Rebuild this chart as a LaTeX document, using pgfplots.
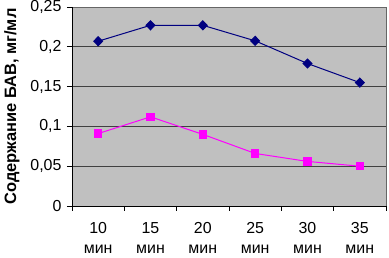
\documentclass[border=0pt]{standalone}
\usepackage{fontspec}
\setmainfont{Liberation Sans}
\usepackage{pgfplots}
\pgfplotsset{compat=1.18}
\definecolor{navyc}{HTML}{000080}
\definecolor{magc}{HTML}{FF00FF}
\definecolor{plotbg}{HTML}{C0C0C0}
\begin{document}
\begin{tikzpicture}
\begin{axis}[
  name=plot,
  at={(0,0)}, anchor=south west,
  scale only axis,
  width=314bp, height=199bp,
  xmin=-0.5, xmax=5.5,
  ymin=0, ymax=0.25,
  ytick={0,0.05,0.1,0.15,0.2,0.25},
  xtick={0,1,2,3,4,5},
  xticklabels={{10\\мин},{15\\мин},{20\\мин},{25\\мин},{30\\мин},{35\\мин}},
  xticklabel style={align=center, font=\fontsize{16}{20}\selectfont, yshift=-8bp},
  yticklabel style={font=\fontsize{16}{19}\selectfont, xshift=-2bp},
  major x tick style={draw=none},
  minor xtick={-0.5,0.5,...,5.5},
  minor tick length=5bp,
  major tick length=5bp,
  tick align=outside,
  tick style={black, line width=0.6pt},
  xtick pos=bottom, ytick pos=left,
  ymajorgrids,
  grid style={black!75, line width=0.6pt},
  axis background/.style={fill=plotbg},
  axis line style={draw=none},
  /pgf/number format/.cd, use comma, fixed, precision=2, assume math mode=true,
  /pgfplots/.cd,
  ylabel={Содержание БАВ, мг/мл},
  ylabel style={font=\bfseries\fontsize{16.5}{19}\selectfont, yshift=4bp},
  clip=false,
]
\draw[gray!80!black, line width=0.6pt] (rel axis cs:0,1) -- (rel axis cs:1,1) -- (rel axis cs:1,0);
\draw[black, line width=0.6pt] (rel axis cs:0,1) -- (rel axis cs:0,0) -- (rel axis cs:1,0);
\addplot[navyc, line width=1bp, mark=diamond*, mark size=4.5bp, mark options={fill=navyc, xscale=1.3}] coordinates {
  (0,0.207) (1,0.227) (2,0.227) (3,0.2075) (4,0.179) (5,0.155)
};
\addplot[magc, line width=1bp, mark=square*, mark size=3.8bp, mark options={fill=magc}] coordinates {
  (0,0.091) (1,0.112) (2,0.090) (3,0.066) (4,0.056) (5,0.050)
};
\end{axis}
\pgfresetboundingbox
\useasboundingbox (-72bp,-52bp) rectangle (317bp,206bp);
\end{tikzpicture}
\end{document}
